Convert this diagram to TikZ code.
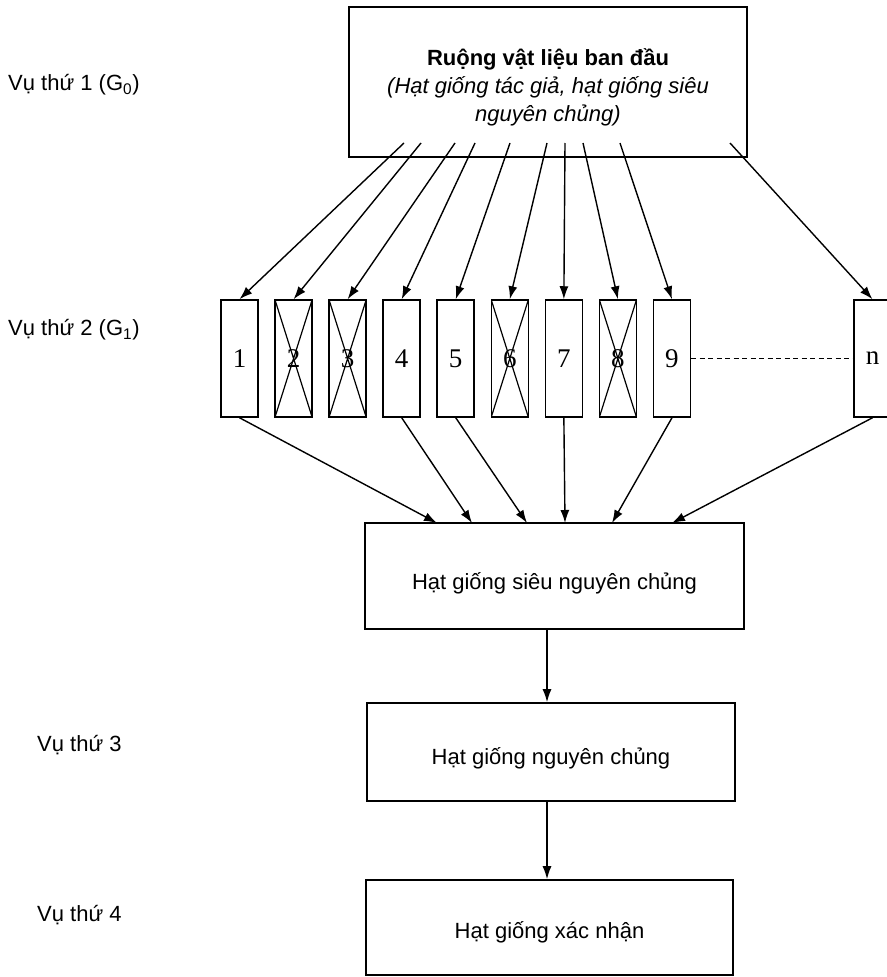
\documentclass[tikz,border=0pt]{standalone}
\usepackage{fontspec}
\setmainfont{Liberation Sans}
\newfontfamily\numfont{Liberation Serif}
\usetikzlibrary{arrows.meta,calc}
\newcommand{\dropped}[2]{\raisebox{-#1}[\height][\depth]{#2}}
\begin{document}
\begin{tikzpicture}[x=1pt,y=-1pt,
  box/.style={draw,line width=1.6pt,rectangle,inner sep=0pt,align=center,font=\fontsize{22}{28}\selectfont},
  plotbox/.style={draw,line width=1.5pt,rectangle,minimum width=37pt,minimum height=117pt,inner sep=0pt,font=\numfont\fontsize{27}{27}\selectfont},
  crossed/.style={plotbox,path picture={\draw[line width=1.2pt] (path picture bounding box.north west) -- (path picture bounding box.south east) (path picture bounding box.north east) -- (path picture bounding box.south west);}},
  arr/.style={line width=1.4pt,-{Latex[length=13pt,width=9pt]}},
  lbl/.style={anchor=west,inner sep=0pt,font=\fontsize{22}{26}\selectfont}]
\useasboundingbox (0,0) rectangle (886,977);

% left labels
\node[lbl] (l1) at (8,85) {Vụ thứ 1 (G\textsubscript{0})};
\node[lbl] (l2) at (8,330) {Vụ thứ 2 (G\textsubscript{1})};
\node[lbl] (l3) at (37,745) {Vụ thứ 3};
\node[lbl] (l4) at (37,915) {Vụ thứ 4};

% top box
\node[box,minimum width=398pt,minimum height=150pt] (top) at (548,82)
  {\dropped{6pt}{\begin{tabular}{@{}c@{}}\textbf{Ruộng vật liệu ban đầu}\\\textit{(Hạt giống tác giả, hạt giống siêu}\\\textit{nguyên chủng)}\end{tabular}}};

% plot boxes
\foreach \i/\st in {1/plotbox,2/crossed,3/crossed,4/plotbox,5/plotbox,6/crossed,7/plotbox,8/crossed,9/plotbox}{
  \node[\st] (b\i) at ({239.5+(\i-1)*54.06},358.5) {\i};
}
\node[plotbox] (bn) at (872.5,358.5) {n};
\draw[line width=1.3pt,dash pattern=on 5pt off 3.5pt] (b9.east) -- (bn.west);

% start points inside top box
\coordinate (s1) at (404,143);
\coordinate (s2) at (421,143);
\coordinate (s3) at (455,143);
\coordinate (s4) at (475,143);
\coordinate (s5) at (510,143);
\coordinate (s6) at (547,143);
\coordinate (s7) at (565,143);
\coordinate (s8) at (583,143);
\coordinate (s9) at (620,143);
\coordinate (sn) at (730,143);
\foreach \i in {1,...,9,n}{
  \draw[arr] (s\i) -- (b\i.north);
}

% lower boxes
\node[box,minimum width=379pt,minimum height=106pt] (m) at (554.5,576) {\dropped{7pt}{Hạt giống siêu nguyên chủng}};
\node[box,minimum width=368pt,minimum height=98pt] (nc) at (551,752) {\dropped{6pt}{Hạt giống nguyên chủng}};
\node[box,minimum width=367pt,minimum height=95pt] (xn) at (549.5,927.5) {\dropped{5pt}{Hạt giống xác nhận}};

% targets on top edge of m
\coordinate (t1) at (437,523);
\coordinate (t4) at (472,523);
\coordinate (t5) at (527,523);
\coordinate (t7) at (565,523);
\coordinate (t9) at (612,523);
\coordinate (tn) at (672,523);
\foreach \i in {1,4,5,7,9,n}{
  \draw[arr] (b\i.south) -- (t\i);
}

\coordinate (ax) at (547,0);
\draw[arr] (m.south -| ax) -- (nc.north -| ax);
\draw[arr] (nc.south -| ax) -- (xn.north -| ax);
\end{tikzpicture}
\end{document}
